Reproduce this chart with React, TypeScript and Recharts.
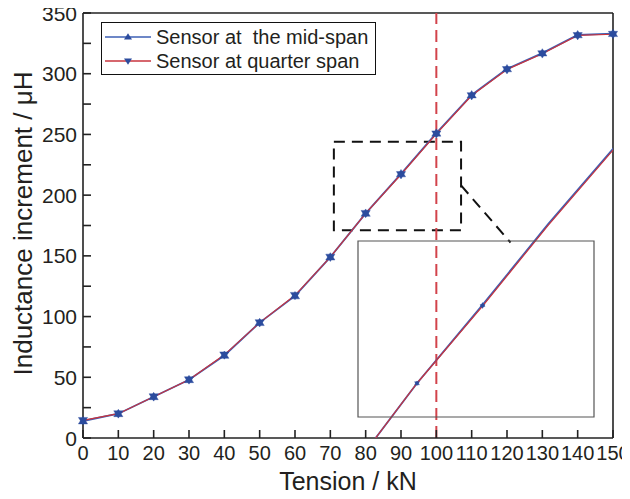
import React from 'react';
import { LineChart, Line, XAxis, YAxis, ReferenceLine, ReferenceArea, Legend, Label } from 'recharts';

const tension = [0, 10, 20, 30, 40, 50, 60, 70, 80, 90, 100, 110, 120, 130, 140, 150];
const midSpan = [14, 20, 34, 48, 68, 95, 117, 149, 185, 217.5, 251, 282.5, 304, 317, 332, 333];
const quarterSpan = [14.5, 20, 34, 48, 68.5, 95, 117.5, 149, 185, 217, 250.5, 282, 303.5, 316.5, 331.5, 332.5];

const xTicks = [0, 10, 20, 30, 40, 50, 60, 70, 80, 90, 100, 110, 120, 130, 140, 150];
const yTicks = [0, 25, 50, 75, 100, 125, 150, 175, 200, 225, 250, 275, 300, 325, 350];

// region that is blown up in the inset
const zoomX = [71, 107];
const zoomY = [171, 244];
const insetXTicks = [80, 90, 100];
const insetYTicks = [175, 200, 225];
const markTension = 100;
const connector = [{ x: 107, y: 208 }, { x: 121, y: 161 }];

const series = [
  { key: 'mid', name: 'Sensor at  the mid-span', color: '#3d5fb4', up: true },
  { key: 'quarter', name: 'Sensor at quarter span', color: '#c8343e', up: false },
];

const data = tension.map((t, i) => ({ t, mid: midSpan[i], quarter: quarterSpan[i] }));

// layout
const W = 630;
const H = 499;
const plot = { left: 83, top: 13, right: 613, bottom: 438 };
const inset = { left: 358, top: 241, right: 594, bottom: 417 };
const font = '"Liberation Sans", Arial, Helvetica, sans-serif';
const ink = '#231f20';
const axisInk = '#222';
const markerBlue = '#2c4c9e';

// overlay domain so the zoom rectangle lands exactly on the inset box
const kx = (zoomX[1] - zoomX[0]) / (inset.right - inset.left);
const ky = (zoomY[1] - zoomY[0]) / (inset.bottom - inset.top);
const overlayX = [zoomX[0] - (inset.left - plot.left) * kx, zoomX[0] + (plot.right - inset.left) * kx];
const overlayY = [zoomY[0] - (plot.bottom - inset.bottom) * ky, zoomY[0] + (inset.bottom - plot.top) * ky];

const tri = (cx: number, cy: number, s: number, up: boolean) => {
  const h = s * 1.6;
  return up
    ? `M${cx},${cy - h * 0.6}L${cx + s},${cy + h * 0.4}L${cx - s},${cy + h * 0.4}Z`
    : `M${cx},${cy + h * 0.6}L${cx + s},${cy - h * 0.4}L${cx - s},${cy - h * 0.4}Z`;
};

const makeDot = (up: boolean, size: number, onlyZoom: boolean) => (props: any) => {
  const { cx, cy, index, payload, value } = props;
  const v = Array.isArray(value) ? value[1] : value;
  const inside = payload.t >= zoomX[0] && payload.t <= zoomX[1] && v >= zoomY[0] && v <= zoomY[1];
  if (cx == null || cy == null || (onlyZoom && !inside)) return <g key={`d${index}`} />;
  return <path key={`d${index}`} d={tri(cx, cy, size, up)} fill={markerBlue} stroke={markerBlue} strokeWidth={0.4} />;
};

// ticks point into the plot, labels sit outside
const XTick = (props: any) => {
  const { x, y, payload } = props;
  return (
    <g>
      <line x1={x} x2={x} y1={plot.bottom} y2={plot.bottom - 8} stroke={axisInk} strokeWidth={1.6} />
      <text x={x} y={y} dy="0.72em" textAnchor="middle" fontFamily={font} fontSize={20} fill={ink}>{payload.value}</text>
    </g>
  );
};

const YTick = (props: any) => {
  const { x, y, payload } = props;
  return (
    <g>
      <line x1={plot.left} x2={plot.left + 8} y1={y} y2={y} stroke={axisInk} strokeWidth={1.6} />
      {payload.value % 50 === 0 && (
        <text x={x} y={y} dy="0.36em" textAnchor="end" fontFamily={font} fontSize={21} fill={ink}>{payload.value}</text>
      )}
    </g>
  );
};

const InsetXTick = (props: any) => {
  const { x } = props;
  const b = inset.bottom - inset.top + 1;
  return <line x1={x} x2={x} y1={b} y2={b - 5} stroke="#444" strokeWidth={1.3} />;
};

const InsetYTick = (props: any) => {
  const { y } = props;
  return <line x1={1} x2={6} y1={y} y2={y} stroke="#444" strokeWidth={1.3} />;
};

const renderLegend = () => (
  <div style={{ border: '1.5px solid #111', boxSizing: 'border-box', width: 275, height: 53, background: '#fff', fontFamily: font, fontSize: 20, color: ink, paddingTop: 2 }}>
    {series.map((s) => (
      <div key={s.key} style={{ display: 'flex', alignItems: 'center', height: 24 }}>
        <svg width={52} height={14} style={{ marginLeft: 1 }}>
          <line x1={2} y1={7} x2={48} y2={7} stroke={s.color} strokeWidth={1.5} />
          <path d={tri(25, 7, 4, s.up)} fill={markerBlue} />
        </svg>
        <span style={{ whiteSpace: 'pre', marginLeft: 1, lineHeight: '24px' }}>{s.name}</span>
      </div>
    ))}
  </div>
);

const XTitle = () => (
  <text x={(plot.left + plot.right) / 2} y={490} textAnchor="middle" fontFamily={font} fontSize={25} fill={ink}>
    Tension / kN
  </text>
);

const YTitle = () => {
  const cy = (plot.top + plot.bottom) / 2 - 2;
  return (
    <text x={32} y={cy} transform={`rotate(-90 32 ${cy})`} textAnchor="middle" fontFamily={font} fontSize={26} fill={ink}>
      Inductance increment / μH
    </text>
  );
};

export default function App() {
  return (
    <div style={{ position: 'relative', width: W, height: H, margin: -8, background: '#fff' }}>
      <div style={{ position: 'absolute', left: 0, top: 0 }}>
        <LineChart width={W} height={H} data={data} margin={{ top: plot.top, right: W - plot.right, left: 0, bottom: 0 }}>
          <XAxis
            type="number"
            dataKey="t"
            domain={[0, 150]}
            ticks={xTicks}
            interval={0}
            height={H - plot.bottom}
            tickSize={0}
            tickMargin={8}
            tickLine={false}
            axisLine={{ stroke: axisInk, strokeWidth: 1.6 }}
            tick={<XTick />}
          >
            <Label content={<XTitle />} />
          </XAxis>
          <YAxis
            type="number"
            domain={[0, 350]}
            ticks={yTicks}
            interval={0}
            width={plot.left}
            tickSize={0}
            tickMargin={6}
            tickLine={false}
            axisLine={{ stroke: axisInk, strokeWidth: 1.6 }}
            tick={<YTick />}
          >
            <Label content={<YTitle />} />
          </YAxis>
          <ReferenceLine y={350} ifOverflow="visible" stroke={axisInk} strokeWidth={1.6} />
          <ReferenceLine x={150} ifOverflow="visible" stroke={axisInk} strokeWidth={1.6} />
          <ReferenceLine x={markTension} stroke="#d2434b" strokeWidth={2} strokeDasharray="12 6" />
          <ReferenceArea x1={zoomX[0]} x2={zoomX[1]} y1={zoomY[0]} y2={zoomY[1]} fill="none" stroke="#111" strokeWidth={2} strokeDasharray="11 7" />
          <ReferenceLine segment={connector} stroke="#111" strokeWidth={2} strokeDasharray="11 7" />
          <Line dataKey="mid" name={series[0].name} stroke={series[0].color} strokeWidth={1.8} dot={makeDot(true, 4.6, false)} isAnimationActive={false} />
          <Line dataKey="quarter" name={series[1].name} stroke={series[1].color} strokeWidth={1.2} dot={makeDot(false, 4.6, false)} isAnimationActive={false} />
          <Legend content={renderLegend} layout="horizontal" verticalAlign="middle" align="center" wrapperStyle={{ left: 101, top: 22, width: 275, height: 53 }} />
        </LineChart>
      </div>

      {/* zoomed curve, clipped to the main plot area */}
      <div style={{ position: 'absolute', left: 0, top: 0 }}>
        <LineChart width={W} height={H} data={data} margin={{ top: plot.top, right: W - plot.right, left: plot.left, bottom: H - plot.bottom }}>
          <XAxis type="number" dataKey="t" domain={overlayX} allowDataOverflow hide />
          <YAxis type="number" domain={overlayY} allowDataOverflow hide />
          <Line dataKey="mid" stroke={series[0].color} strokeWidth={1.8} dot={false} isAnimationActive={false} />
          <Line dataKey="quarter" stroke={series[1].color} strokeWidth={1.2} dot={false} isAnimationActive={false} />
        </LineChart>
      </div>

      {/* inset frame, ticks and markers */}
      <div style={{ position: 'absolute', left: inset.left - 1, top: inset.top - 1 }}>
        <LineChart width={inset.right - inset.left + 2} height={inset.bottom - inset.top + 2} data={data} margin={{ top: 1, right: 1, left: 1, bottom: 1 }}>
          <XAxis type="number" dataKey="t" domain={zoomX} allowDataOverflow ticks={insetXTicks} interval={0} height={0} tickSize={0} tickLine={false} axisLine={false} tick={<InsetXTick />} />
          <YAxis type="number" domain={zoomY} allowDataOverflow ticks={insetYTicks} interval={0} width={0} tickSize={0} tickLine={false} axisLine={false} tick={<InsetYTick />} />
          <ReferenceArea x1={zoomX[0]} x2={zoomX[1]} y1={zoomY[0]} y2={zoomY[1]} ifOverflow="visible" fill="none" stroke="#555" strokeWidth={1.2} />
          <Line dataKey="mid" stroke="none" dot={makeDot(true, 2.4, true)} isAnimationActive={false} />
          <Line dataKey="quarter" stroke="none" dot={makeDot(false, 2.4, true)} isAnimationActive={false} />
        </LineChart>
      </div>
    </div>
  );
}
